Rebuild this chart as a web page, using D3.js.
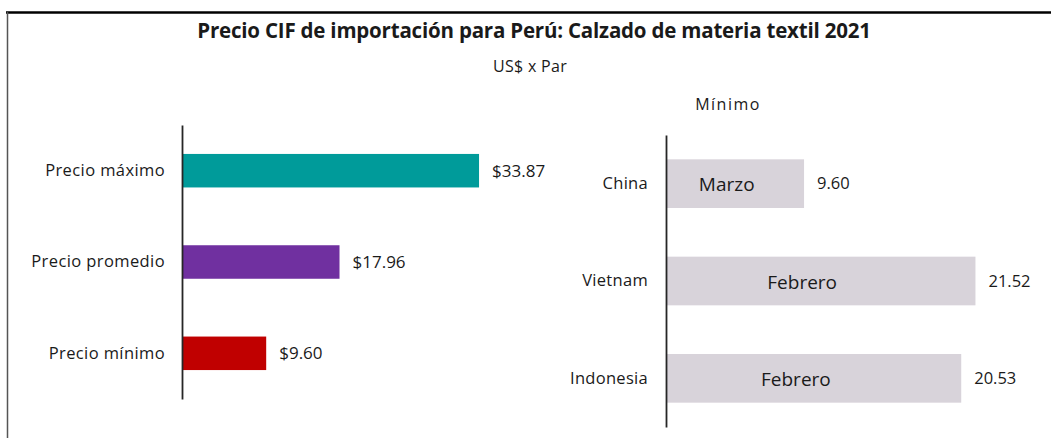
<!DOCTYPE html>
<html>
<head>
<meta charset="utf-8">
<script src="https://cdn.jsdelivr.net/npm/d3@7"></script>
<style>
  body { margin: 0; background: #fff; }
  text { font-family: "Open Sans", "Noto Sans", sans-serif; fill: #1a1a1a; }
</style>
</head>
<body>
<div id="chart"></div>
<script>
// Data
const priceLabels = ["Precio máximo", "Precio promedio", "Precio mínimo"];
const priceValues = [33.87, 17.96, 9.6];
const priceColors = ["#009b9a", "#7030a0", "#c00000"];

const countries = ["China", "Vietnam", "Indonesia"];
const minValues = [9.6, 21.52, 20.53];
const minMonths = ["Marzo", "Febrero", "Febrero"];

const title = "Precio CIF de importación para Perú: Calzado de materia textil 2021";
const subtitle = "US$ x Par";
const rightTitle = "Mínimo";

// Dimensions
const dimensions = { width: 1051, height: 438 };

const svg = d3
  .select("#chart")
  .append("svg")
  .attr("width", dimensions.width)
  .attr("height", dimensions.height);

// Frame
svg.append("line")
  .attr("x1", 6).attr("x2", dimensions.width).attr("y1", 12.5).attr("y2", 12.5)
  .attr("stroke", "#000").attr("stroke-width", 2.5);
svg.append("line")
  .attr("x1", 7.5).attr("x2", 7.5).attr("y1", 12).attr("y2", dimensions.height)
  .attr("stroke", "#555").attr("stroke-width", 1.5);

// Titles
svg.append("text")
  .attr("x", 534).attr("y", 38)
  .attr("text-anchor", "middle")
  .style("font-size", "20.5px").style("font-weight", "bold")
  .style("letter-spacing", "-0.2px")
  .text(title);
svg.append("text")
  .attr("x", 530).attr("y", 72)
  .attr("text-anchor", "middle")
  .style("font-size", "16px")
  .style("letter-spacing", "0.3px")
  .text(subtitle);
svg.append("text")
  .attr("x", 728).attr("y", 110)
  .attr("text-anchor", "middle")
  .style("font-size", "16px")
  .style("letter-spacing", "1.5px")
  .text(rightTitle);

// Left chart
const xLeft = d3.scaleLinear().domain([0, 40]).range([182, 182 + 40 * 8.77]);
const yLeft = d3.scaleBand().domain(priceLabels).range([125, 399])
  .paddingInner(0.633).paddingOuter(0.317);

svg.append("g")
  .selectAll("rect")
  .data(priceValues)
  .join("rect")
  .attr("x", xLeft(0))
  .attr("y", (d, i) => yLeft(priceLabels[i]))
  .attr("width", (d) => xLeft(d) - xLeft(0))
  .attr("height", yLeft.bandwidth())
  .attr("fill", (d, i) => priceColors[i]);

svg.append("g")
  .selectAll("text")
  .data(priceValues)
  .join("text")
  .attr("x", (d) => xLeft(d) + 13)
  .attr("y", (d, i) => yLeft(priceLabels[i]) + yLeft.bandwidth() / 2)
  .attr("dy", "0.35em")
  .style("font-size", "17px")
  .text((d) => "$" + d3.format(".2f")(d));

const leftAxis = svg.append("g")
  .attr("transform", `translate(${xLeft(0)},0)`)
  .call(d3.axisLeft(yLeft).tickSize(0).tickSizeOuter(0).tickPadding(17));
leftAxis.select(".domain").attr("stroke", "#262626").attr("stroke-width", 1.8);
leftAxis.selectAll(".tick text")
  .style("font-size", "16.5px")
  .style("letter-spacing", "0.4px")
  .style("font-family", "'Open Sans', sans-serif")
  .attr("fill", "#1a1a1a");

// Right chart
const xRight = d3.scaleLinear().domain([0, 25]).range([666, 666 + 25 * 14.38]);
const yRight = d3.scaleBand().domain(countries).range([135, 427])
  .paddingInner(0.5).paddingOuter(0.25);

svg.append("g")
  .selectAll("rect")
  .data(minValues)
  .join("rect")
  .attr("x", xRight(0))
  .attr("y", (d, i) => yRight(countries[i]))
  .attr("width", (d) => xRight(d) - xRight(0))
  .attr("height", yRight.bandwidth())
  .attr("fill", "#d8d3da");

svg.append("g")
  .selectAll("text")
  .data(minValues)
  .join("text")
  .attr("x", (d) => xRight(d * 0.44))
  .attr("y", (d, i) => yRight(countries[i]) + yRight.bandwidth() / 2)
  .attr("dy", "0.4em")
  .attr("text-anchor", "middle")
  .style("font-size", "19px")
  .text((d, i) => minMonths[i]);

svg.append("g")
  .selectAll("text")
  .data(minValues)
  .join("text")
  .attr("x", (d) => xRight(d) + 13)
  .attr("y", (d, i) => yRight(countries[i]) + yRight.bandwidth() / 2)
  .attr("dy", "0.35em")
  .style("font-size", "16.5px")
  .text((d) => d3.format(".2f")(d));

const rightAxis = svg.append("g")
  .attr("transform", `translate(${xRight(0)},0)`)
  .call(d3.axisLeft(yRight).tickSize(0).tickSizeOuter(0).tickPadding(18));
rightAxis.select(".domain").attr("stroke", "#262626").attr("stroke-width", 1.8);
rightAxis.selectAll(".tick text")
  .style("font-size", "16.5px")
  .style("letter-spacing", "0.3px")
  .style("font-family", "'Open Sans', sans-serif")
  .attr("fill", "#1a1a1a");
</script>
</body>
</html>
